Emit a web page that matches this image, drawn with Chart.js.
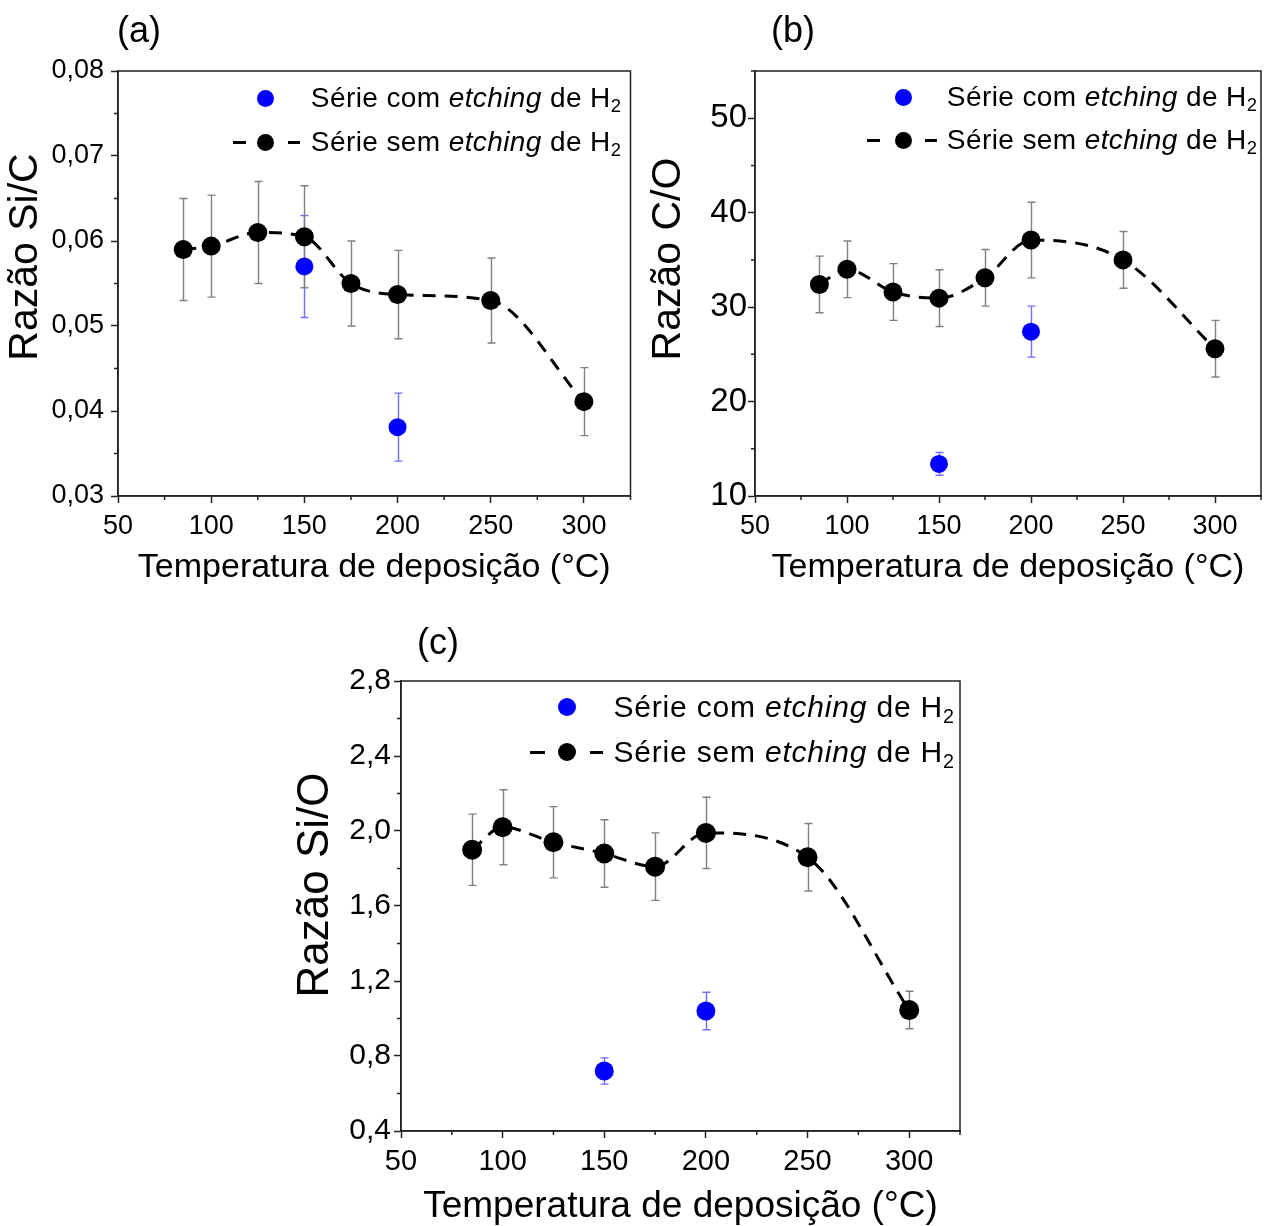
<!DOCTYPE html>
<html><head><meta charset="utf-8">
<script src="https://cdn.jsdelivr.net/npm/chart.js@4/dist/chart.umd.min.js"></script>
<style>
body{margin:0;background:#fff;width:1271px;height:1226px;position:relative;overflow:hidden;font-family:"Liberation Sans",Arial,sans-serif;}
canvas{position:absolute;}
.panel{position:absolute;font-size:36px;color:#000;line-height:1;white-space:nowrap;}
.leg{position:absolute;white-space:nowrap;color:#000;line-height:1;}
.leg i{font-style:italic;}
.leg sub{font-size:0.66em;vertical-align:-0.28em;line-height:0;letter-spacing:0;}
.dot{position:absolute;border-radius:50%;}
.dash{position:absolute;height:3px;background:#000;}
</style></head><body>
<canvas id="ca" width="640" height="600" style="left:0;top:0"></canvas>
<canvas id="cb" width="631" height="600" style="left:640px;top:0"></canvas>
<canvas id="cc" width="690" height="616" style="left:280px;top:610px"></canvas>
<div class="panel" style="left:117px;top:12px">(a)</div>
<div class="panel" style="left:771px;top:12px">(b)</div>
<div class="panel" style="left:417px;top:624px">(c)</div>
<script>
// ---- data ----
const temps = [85, 100, 125, 150, 175, 200, 250, 300];
const tempsEtch = [150, 200];

const siC_sem = [0.0590, 0.0594, 0.0610, 0.0605, 0.0550, 0.0537, 0.0530, 0.0411];
const siC_semErr = [0.006, 0.006, 0.006, 0.006, 0.005, 0.0052, 0.005, 0.004];
const siC_com = [0.0570, 0.0381];
const siC_comErr = [0.006, 0.004];

const cO_sem = [32.4, 34.0, 31.6, 30.95, 33.1, 37.1, 35.0, 25.6];
const cO_semErr = [3, 3, 3, 3, 3, 4, 3, 3];
const cO_com = [13.4, 27.4];
const cO_comErr = [1.2, 2.7];

const siO_sem = [1.90, 2.02, 1.94, 1.88, 1.81, 1.99, 1.86, 1.045];
const siO_semErr = [0.19, 0.20, 0.19, 0.18, 0.18, 0.19, 0.18, 0.10];
const siO_com = [0.72, 1.04];
const siO_comErr = [0.07, 0.10];

const xTicks = [50, 100, 150, 200, 250, 300];
const xMinor = [75, 125, 175, 225, 275, 325];
const yTicksA = [0.03, 0.04, 0.05, 0.06, 0.07, 0.08];
const yMinorA = [0.035, 0.045, 0.055, 0.065, 0.075];
const yTicksB = [10, 20, 30, 40, 50];
const yMinorB = [15, 25, 35, 45, 55];
const yTicksC = [0.4, 0.8, 1.2, 1.6, 2.0, 2.4, 2.8];
const yMinorC = [0.6, 1.0, 1.4, 1.8, 2.2, 2.6];

const xTitle = 'Temperatura de deposição (°C)';
const legCom = ['Série com ', 'etching', ' de H', '2'];
const legSem = ['Série sem ', 'etching', ' de H', '2'];

const FONT = '"Liberation Sans", Arial, sans-serif';
const AXIS = '#222';

const decorPlugin = {
  id: 'decor',
  beforeDatasetsDraw(chart) {
    const {ctx, scales: {x, y}} = chart;
    chart.data.datasets.forEach(ds => {
      if (!ds.errors) return;
      ctx.save();
      ctx.strokeStyle = ds.errorColor;
      ctx.lineWidth = 1.4;
      ds.data.forEach((p, j) => {
        const px = Math.round(x.getPixelForValue(p.x)) + 0.5;
        const t = y.getPixelForValue(p.y + ds.errors[j]);
        const b = y.getPixelForValue(p.y - ds.errors[j]);
        ctx.beginPath();
        ctx.moveTo(px, t); ctx.lineTo(px, b);
        ctx.moveTo(px - 4, t); ctx.lineTo(px + 4, t);
        ctx.moveTo(px - 4, b); ctx.lineTo(px + 4, b);
        ctx.stroke();
      });
      ctx.restore();
    });
  },
  afterDraw(chart, args, opts) {
    const {ctx, chartArea: a, scales: {x, y}} = chart;
    ctx.save();
    ctx.strokeStyle = AXIS;
    ctx.lineWidth = 1.5;
    ctx.strokeRect(a.left, a.top, a.right - a.left, a.bottom - a.top);
    ctx.beginPath();
    (opts.xMinor || []).forEach(v => {
      const px = x.getPixelForValue(v);
      ctx.moveTo(px, a.bottom); ctx.lineTo(px, a.bottom + 4);
    });
    (opts.yMinor || []).forEach(v => {
      const py = y.getPixelForValue(v);
      ctx.moveTo(a.left, py); ctx.lineTo(a.left - 4, py);
    });
    ctx.stroke();
    // rotated y-axis title
    const t = opts.yTitle;
    if (t) {
      ctx.translate(t.x, t.y);
      ctx.rotate(-Math.PI / 2);
      ctx.fillStyle = '#000';
      ctx.font = `${t.size}px ${FONT}`;
      ctx.textAlign = 'center';
      ctx.textBaseline = 'middle';
      ctx.fillText(t.text, 0, 0);
    }
    ctx.restore();
  }
};

function pts(xs, ys) { return xs.map((v, i) => ({x: v, y: ys[i]})); }

function makeChart(id, c) {
  return new Chart(document.getElementById(id), {
    type: 'scatter',
    data: {
      datasets: [
        {
          label: 'Série com etching de H2',
          data: pts(tempsEtch, c.com),
          errors: c.comErr,
          errorColor: '#7070ff',
          backgroundColor: '#0000ff',
          borderColor: '#0000ff',
          pointRadius: c.r - 0.5,
          pointBorderWidth: 0,
          showLine: false
        },
        {
          label: 'Série sem etching de H2',
          data: pts(temps, c.sem),
          errors: c.semErr,
          errorColor: '#808080',
          backgroundColor: '#000',
          borderColor: '#000',
          pointBorderWidth: 0,
          pointRadius: c.r,
          showLine: true,
          borderWidth: 3,
          borderDash: [13, 9],
          cubicInterpolationMode: 'monotone'
        }
      ]
    },
    options: {
      responsive: false,
      animation: false,
      devicePixelRatio: 1,
      layout: {padding: {top: c.padTop, right: c.padRight, left: 0, bottom: 0}},
      plugins: {
        legend: {display: false},
        tooltip: {enabled: false},
        decor: {xMinor: xMinor, yMinor: c.yMinor,
                yTitle: {text: c.yTitle, x: c.yTitleX, y: c.yTitleY, size: c.yTitleSize}}
      },
      scales: {
        x: {
          type: 'linear', min: 50, max: 325,
          afterBuildTicks: s => { s.ticks = xTicks.map(v => ({value: v})); },
          afterFit: s => { s.height = c.xH; },
          grid: {drawOnChartArea: false, drawTicks: true, tickLength: 7, tickColor: AXIS, tickWidth: 1.5},
          border: {display: true, color: AXIS, width: 1.5},
          ticks: {color: '#000', font: {family: FONT, size: c.xTickSize}, padding: c.xTickPad, maxRotation: 0,
                  callback: v => String(v)},
          title: {display: true, text: xTitle, color: '#000', font: {family: FONT, size: c.xTitleSize},
                  padding: {top: 0, bottom: c.xTitlePad}}
        },
        y: {
          type: 'linear', min: c.yMin, max: c.yMax,
          afterBuildTicks: s => { s.ticks = c.yTicks.map(v => ({value: v})); },
          afterFit: s => { s.width = c.yW; },
          grid: {drawOnChartArea: false, drawTicks: true, tickLength: 7, tickColor: AXIS, tickWidth: 1.5},
          border: {display: true, color: AXIS, width: 1.5},
          ticks: {color: '#000', font: {family: FONT, size: c.yTickSize}, padding: c.yTickPad,
                  callback: v => c.dec ? v.toFixed(c.dec).replace('.', ',') : String(v)},
          title: {display: false}
        }
      }
    },
    plugins: [decorPlugin]
  });
}

makeChart('ca', {
  com: siC_com, comErr: siC_comErr, sem: siC_sem, semErr: siC_semErr, r: 9.5,
  padTop: 71, padRight: 9, xH: 104, yW: 118,
  yMin: 0.03, yMax: 0.08, yTicks: yTicksA, yMinor: yMinorA, dec: 2,
  xTickSize: 27, xTickPad: 7, xTitleSize: 34, xTitlePad: 12,
  yTickSize: 27, yTickPad: 7, yTitle: 'Razão Si/C', yTitleSize: 41, yTitleX: 26, yTitleY: 257
});
makeChart('cb', {
  com: cO_com, comErr: cO_comErr, sem: cO_sem, semErr: cO_semErr, r: 9.5,
  padTop: 71, padRight: 10, xH: 104, yW: 115,
  yMin: 10, yMax: 55, yTicks: yTicksB, yMinor: yMinorB, dec: 0,
  xTickSize: 27, xTickPad: 7, xTitleSize: 34, xTitlePad: 12,
  yTickSize: 33, yTickPad: 1, yTitle: 'Razão C/O', yTitleSize: 41, yTitleX: 29, yTitleY: 259
});
makeChart('cc', {
  com: siO_com, comErr: siO_comErr, sem: siO_sem, semErr: siO_semErr, r: 10,
  padTop: 71, padRight: 10, xH: 95, yW: 121,
  yMin: 0.4, yMax: 2.8, yTicks: yTicksC, yMinor: yMinorC, dec: 1,
  xTickSize: 29, xTickPad: 7, xTitleSize: 37, xTitlePad: -3,
  yTickSize: 30, yTickPad: 3, yTitle: 'Razão Si/O', yTitleSize: 44, yTitleX: 36, yTitleY: 275
});

// ---- legends (HTML, real text) ----
function addLegend(L) {
  const rows = [
    {parts: legCom, color: '#0000ff', dashes: false},
    {parts: legSem, color: '#000', dashes: true}
  ];
  rows.forEach((row, k) => {
    const cy = L.rowY[k];
    const d = document.createElement('div');
    d.className = 'dot';
    const r = L.r;
    d.style.cssText = `left:${L.dotX - r}px;top:${cy - r}px;width:${2 * r}px;height:${2 * r}px;background:${row.color}`;
    document.body.appendChild(d);
    if (row.dashes) {
      L.dashes.forEach(([a, b]) => {
        const s = document.createElement('div');
        s.className = 'dash';
        s.style.cssText = `left:${a}px;width:${b - a}px;top:${cy - 1.5}px`;
        document.body.appendChild(s);
      });
    }
    const t = document.createElement('div');
    t.className = 'leg';
    t.style.fontSize = L.fs + 'px';
    t.style.letterSpacing = L.ls + 'px';
    t.style.right = (1271 - L.right) + 'px';
    t.style.top = (cy - 0.49 * L.fs) + 'px';
    const [p1, p2, p3, p4] = row.parts;
    t.innerHTML = `${p1}<i>${p2}</i>${p3}<sub>${p4}</sub>`;
    document.body.appendChild(t);
  });
}
addLegend({rowY: [98, 142], dotX: 265, r: 8.5, right: 621, fs: 28, ls: 0.4, dashes: [[233, 246], [288, 300]]});
addLegend({rowY: [97, 140], dotX: 903, r: 8.5, right: 1257, fs: 28, ls: 0.4, dashes: [[867, 880], [925, 937]]});
addLegend({rowY: [707, 752], dotX: 567, r: 9, right: 954, fs: 30, ls: 0.8, dashes: [[530, 545], [590, 603]]});
</script>
</body></html>
